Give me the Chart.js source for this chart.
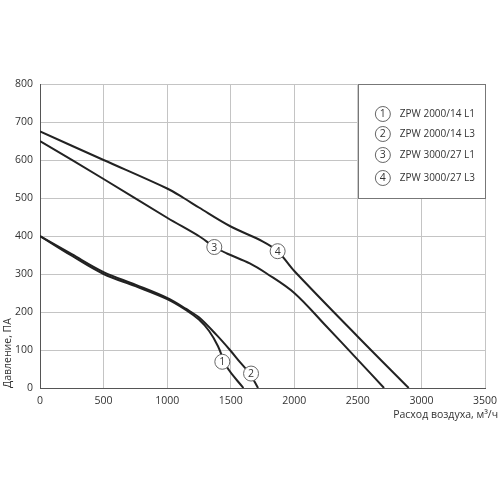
<!DOCTYPE html>
<html>
<head>
<meta charset="utf-8">
<script src="https://cdn.jsdelivr.net/npm/chart.js@4.4.0/dist/chart.umd.min.js"></script>
<style>
html,body{margin:0;padding:0;background:#fff;}
#wrap{width:500px;height:500px;}
</style>
</head>
<body>
<div id="wrap"><canvas id="c" width="500" height="500"></canvas></div>
<script>
// Series data: airflow (m3/h) and pressure (Pa)
const seriesNames = ['ZPW 2000/14 L1', 'ZPW 2000/14 L3', 'ZPW 3000/27 L1', 'ZPW 3000/27 L3'];
const flow1 = [0, 250, 500, 750, 1000, 1150, 1250, 1330, 1400, 1470, 1600];
const pres1 = [400, 348, 300, 268, 234, 205, 180, 150, 110, 55, 0];
const flow2 = [0, 250, 500, 750, 1000, 1150, 1250, 1390, 1494, 1573, 1650, 1715];
const pres2 = [400, 352, 305, 272, 237, 208, 186, 139, 100, 68, 38, 0];
const flow3 = [0, 500, 1000, 1258, 1371, 1470, 1650, 1780, 2000, 2250, 2500, 2706];
const pres3 = [650, 550, 448, 398, 371, 354, 328, 302, 250, 163, 74, 0];
const flow4 = [0, 500, 1000, 1130, 1250, 1500, 1750, 1869, 2000, 2500, 2900];
const pres4 = [675, 600, 525, 500, 475, 425, 386, 360, 308, 135, 0];
// Numbered markers on the curves
const markerFlow = [1434, 1660, 1371, 1869];
const markerPres = [69, 38, 371, 360];
const markerText = ['1', '2', '3', '4'];
// Axis ticks
const xTicks = [0, 500, 1000, 1500, 2000, 2500, 3000, 3500];
const yTicks = [0, 100, 200, 300, 400, 500, 600, 700, 800];
const xTitle = 'Расход воздуха, м³/ч';
const yTitle = 'Давление, ПА';

const toPts = (xs, ys) => xs.map((x, i) => ({x: x, y: ys[i]}));
const allFlows = [flow1, flow2, flow3, flow4];
const allPres = [pres1, pres2, pres3, pres4];

const FONT = '"Open Sans", "DejaVu Sans", sans-serif';

const overlay = {
  id: 'overlay',
  afterDatasetsDraw(chart) {
    const ctx = chart.ctx;
    const xs = chart.scales.x, ys = chart.scales.y;
    ctx.save();
    // legend box (covers region 2500..3500, 500..800)
    const bx0 = xs.getPixelForValue(2500), bx1 = xs.getPixelForValue(3500);
    const by0 = ys.getPixelForValue(800), by1 = ys.getPixelForValue(500);
    ctx.fillStyle = '#fff';
    ctx.fillRect(bx0, by0, bx1 - bx0, by1 - by0);
    ctx.strokeStyle = '#777';
    ctx.lineWidth = 1;
    ctx.strokeRect(Math.round(bx0) + 0.5, Math.round(by0) + 0.5, Math.round(bx1 - bx0), Math.round(by1 - by0));
    const drawCircle = (cx, cy, t) => {
      ctx.beginPath();
      ctx.arc(cx, cy, 7.5, 0, Math.PI * 2);
      ctx.fillStyle = '#fff';
      ctx.fill();
      ctx.strokeStyle = '#666';
      ctx.lineWidth = 1;
      ctx.stroke();
      ctx.fillStyle = '#333';
      ctx.font = '10.5px ' + FONT;
      ctx.textAlign = 'center';
      ctx.textBaseline = 'middle';
      ctx.fillText(t, cx, cy + 0.5);
    };
    const itemY = [30, 50, 71, 94];
    seriesNames.forEach((n, i) => {
      const cy = by0 + itemY[i];
      drawCircle(bx0 + 25, cy, markerText[i]);
      ctx.fillStyle = '#333';
      ctx.font = '10px ' + FONT;
      ctx.textAlign = 'left';
      ctx.textBaseline = 'middle';
      ctx.fillText(n, bx0 + 42, cy);
    });
    // markers on curves
    markerFlow.forEach((f, i) => {
      drawCircle(xs.getPixelForValue(f), ys.getPixelForValue(markerPres[i]), markerText[i]);
    });
    ctx.restore();
  },
  afterDraw(chart) {
    const ctx = chart.ctx;
    ctx.save();
    ctx.fillStyle = '#333';
    ctx.font = '10.5px ' + FONT;
    ctx.textAlign = 'right';
    ctx.textBaseline = 'middle';
    ctx.fillText(xTitle, 498, chart.chartArea.bottom + 27);
    ctx.restore();
  }
};

new Chart(document.getElementById('c'), {
  type: 'scatter',
  data: {
    datasets: allFlows.map((f, i) => ({
      label: seriesNames[i],
      data: toPts(f, allPres[i]),
      showLine: true,
      borderColor: '#222',
      borderWidth: 2,
      pointRadius: 0,
      tension: 0.35,
      fill: false
    }))
  },
  options: {
    responsive: false,
    animation: false,
    devicePixelRatio: 1,
    layout: {padding: {top: 84, right: 0, bottom: 0, left: 0}},
    plugins: {legend: {display: false}, tooltip: {enabled: false}},
    scales: {
      x: {
        type: 'linear', min: 0, max: 3500,
        afterBuildTicks: s => { s.ticks = xTicks.map(v => ({value: v})); },
        afterFit: s => { s.height = 112; s.paddingRight = 15; s.paddingLeft = 0; },
        ticks: {color: '#333', font: {family: FONT, size: 10.5}, padding: 7, maxRotation: 0,
                callback: v => String(v)},
        grid: {color: '#c4c4c4', lineWidth: 1, drawTicks: false},
        border: {color: '#555', width: 1}
      },
      y: {
        type: 'linear', min: 0, max: 800,
        afterBuildTicks: s => { s.ticks = yTicks.map(v => ({value: v})); },
        afterFit: s => { s.width = 40; },
        ticks: {color: '#333', font: {family: FONT, size: 10.5}, padding: 7,
                callback: v => String(v)},
        grid: {color: '#c4c4c4', lineWidth: 1, drawTicks: false},
        border: {color: '#555', width: 1},
        title: {display: true, text: yTitle, align: 'start', color: '#333',
                font: {family: FONT, size: 10.5}, padding: {top: 2, bottom: 0}}
      }
    }
  },
  plugins: [overlay]
});
</script>
</body>
</html>
